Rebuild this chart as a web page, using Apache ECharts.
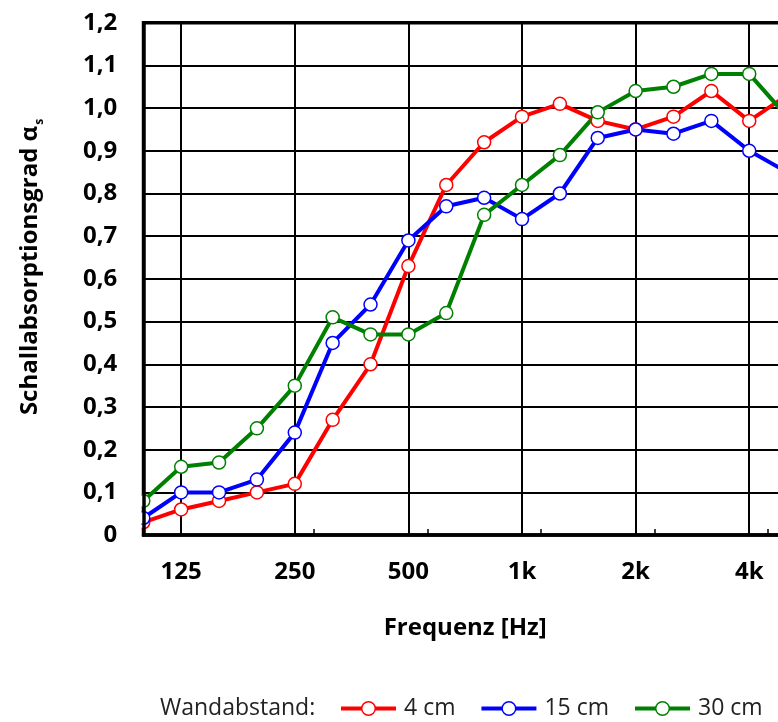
<!DOCTYPE html>
<html>
<head>
<meta charset="utf-8">
<script src="https://cdn.jsdelivr.net/npm/echarts@6/dist/echarts.min.js"></script>
<style>
html,body{margin:0;padding:0;background:#fff;}
#c{width:778px;height:722px;}
</style>
</head>
<body>
<div id="c"></div>
<script>
// Third-octave band centre frequencies (category axis)
const categories = ['100','125','160','200','250','315','400','500','630','800','1k','1,25k','1,6k','2k','2,5k','3,15k','4k','5k'];
// Labelled octave ticks
const tickLabels = ['125','250','500','1k','2k','4k'];
// Series values (absorption coefficient)
const seriesNames = ['4 cm','15 cm','30 cm'];
const wall4 = [0.03,0.06,0.08,0.10,0.12,0.27,0.40,0.63,0.82,0.92,0.98,1.01,0.97,0.95,0.98,1.04,0.97,1.03];
const wall15 = [0.04,0.10,0.10,0.13,0.24,0.45,0.54,0.69,0.77,0.79,0.74,0.80,0.93,0.95,0.94,0.97,0.90,0.85];
const wall30 = [0.08,0.16,0.17,0.25,0.35,0.51,0.47,0.47,0.52,0.75,0.82,0.89,0.99,1.04,1.05,1.08,1.08,0.98];
const colors = ['#ff0000','#0000ff','#008000'];

const FONT = '"Open Sans", "Noto Sans", sans-serif';
const isMajor = (i) => tickLabels.indexOf(categories[i]) >= 0;
// half-band positions for minor (half-octave) ticks
const halfBands = categories.flatMap((c, i) => i < categories.length - 1 ? [c, c + '+'] : [c]);
const isMinor = (i) => i % 2 === 1 && ((i - 1) / 2) % 3 === 1 && (i - 1) / 2 > 1;

const GRID = {left: 143.3, top: 22.7, width: 643.8, height: 512.4};

function mkSeries(name, data, color) {
  return {
    name, type: 'line', data,
    symbol: 'circle', symbolSize: 13,
    lineStyle: {color, width: 4},
    itemStyle: {color: '#fff', borderColor: color, borderWidth: 1.5},
    z: 2,
    emphasis: {disabled: true},
    animation: false
  };
}

const chart = echarts.init(document.getElementById('c'), null, {renderer: 'canvas'});
chart.setOption({
  animation: false,
  color: colors,
  grid: Object.assign({show: true, borderColor: '#000', borderWidth: 3.5, backgroundColor: 'transparent',
    containLabel: false, outerBoundsMode: 'none'}, GRID),
  xAxis: [{
    type: 'category', data: categories, boundaryGap: false,
    axisLine: {show: true, lineStyle: {color: '#000', width: 3.5}},
    axisTick: {show: false},
    axisLabel: {interval: (i) => isMajor(i), margin: 25, color: '#000', fontFamily: FONT, fontWeight: 'bold', fontSize: 24},
    splitLine: {show: true, interval: (i) => isMajor(i), lineStyle: {color: '#000', width: 2}},
    name: 'Frequenz [Hz]', nameLocation: 'middle', nameGap: 81,
    nameTextStyle: {color: '#000', fontFamily: FONT, fontWeight: 'bold', fontSize: 24}
  }, {
    type: 'category', data: halfBands, boundaryGap: false, position: 'bottom',
    axisLine: {show: false},
    axisLabel: {show: false},
    splitLine: {show: false},
    axisTick: {show: true, inside: true, length: 6, interval: (i) => isMinor(i), lineStyle: {color: '#000', width: 1.5}}
  }],
  yAxis: [{
    type: 'value', min: 0, max: 1.2, interval: 0.1, position: 'left',
    axisLine: {show: false}, axisTick: {show: false}, axisLabel: {show: false},
    splitLine: {show: true, lineStyle: {color: '#000', width: 2}}
  }, {
    type: 'value', min: 0, max: 1.2, interval: 0.1, position: 'left', zlevel: 1, z: 10,
    axisLine: {show: true, lineStyle: {color: '#000', width: 3.5}},
    axisTick: {show: false},
    splitLine: {show: false},
    axisLabel: {
      margin: 26, color: '#000', fontFamily: FONT, fontWeight: 'bold', fontSize: 24,
      formatter: (v) => v === 0 ? '0' : v.toFixed(1).replace('.', ',')
    }
  }],
  legend: {
    left: 334, top: 692,
    data: seriesNames,
    itemWidth: 55, itemHeight: 17, itemGap: 24,
    lineStyle: {width: 4},
    itemStyle: {borderWidth: 1.5},
    textStyle: {color: '#222', fontFamily: FONT, fontSize: 23, padding: [0, 0, 0, 3]},
    selectedMode: false
  },
  graphic: [
    {type: 'rect', zlevel: 1, z: 5, silent: true, shape: {x: 0, y: 10, width: 141.5, height: 530}, style: {fill: '#fff'}},
    {type: 'text', zlevel: 1, z: 20, x: 30, y: 267, rotation: Math.PI / 2, silent: true,
     style: {
       text: '{a|Schallabsorptionsgrad α}{s|s}',
       align: 'center', verticalAlign: 'middle',
       rich: {
         a: {fontFamily: FONT, fontWeight: 'bold', fontSize: 24, fill: '#000', lineHeight: 32, verticalAlign: 'middle'},
         s: {fontFamily: FONT, fontWeight: 'bold', fontSize: 12, fill: '#000', verticalAlign: 'bottom', padding: [0, 0, 0, 1]}
       }
     }},
    {type: 'text', zlevel: 1, z: 20, x: 160, y: 708, silent: true,
     style: {text: 'Wandabstand:', fontFamily: FONT, fontSize: 23, fill: '#222', verticalAlign: 'middle'}}
  ],
  series: [
    mkSeries(seriesNames[0], wall4, colors[0]),
    mkSeries(seriesNames[1], wall15, colors[1]),
    mkSeries(seriesNames[2], wall30, colors[2])
  ]
});
</script>
</body>
</html>
